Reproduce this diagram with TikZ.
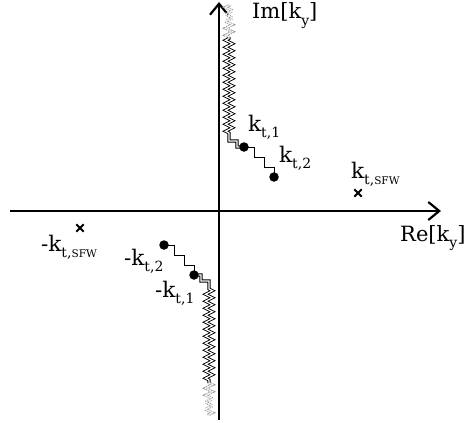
\documentclass[tikz,border=0pt]{standalone}
\usepackage{fontspec}
\setmainfont{DejaVu Serif}
\usetikzlibrary{arrows.meta,decorations.pathmorphing,shapes.misc,calc}
\newcommand\mysub[1]{\raisebox{-0.3em}{\fontsize{14}{14}\selectfont #1}}
\newcommand\mysmall[1]{{\fontsize{10.5}{10.5}\selectfont #1}}
\begin{document}
\begin{tikzpicture}[x=1pt,y=-1pt,
  axis/.style={line width=2.2pt,-{Straight Barb[length=11pt,width=18pt]}},
  axlabel/.style={anchor=base west,inner sep=0pt,font=\fontsize{21}{21}\selectfont},
  ptlabel/.style={anchor=base west,inner sep=0pt,font=\fontsize{21.5}{21.5}\selectfont},
  dot/.style={circle,fill=black,inner sep=0pt,minimum size=9.5pt},
  pole/.style={cross out,draw=black,line width=1.8pt,inner sep=0pt,minimum size=5.5pt},
  cutline/.style={draw=black,line width=0.9pt,double=white,double distance=1.3pt,line join=miter},
  zz/.style={decorate,decoration={zigzag,segment length=7pt,amplitude=3.5pt}},
  fade/.style={draw=black!40,densely dotted,line width=0.9pt,double=white,double distance=1.3pt},
  stairs/.style={draw=black,line width=0.9pt}]
\useasboundingbox (0,0) rectangle (467,423);
% axes
\coordinate (xl) at (10,211);
\coordinate (xr) at (441,211);
\coordinate (yb) at (219,420);
\coordinate (yt) at (219,2);
\draw[axis] (xl) -- (xr);
\draw[axis] (yb) -- (yt);
% points
\coordinate (k1) at (244,147);
\coordinate (k2) at (274,177);
\coordinate (m1) at (194,275);
\coordinate (m2) at (164,245);
% upper cut
\coordinate (h1) at (237,141);
\coordinate (c1) at (229,133);
\coordinate (u1) at (229,37);
\coordinate (u2) at (229,5);
\draw[cutline] (k1) -| (h1) -| (c1) decorate[zz]{-- (u1)};
\draw[fade,zz] (u1) -- (u2);
% lower cut
\coordinate (h2) at (201,281);
\coordinate (c2) at (209,289);
\coordinate (l1) at (209,383);
\coordinate (l2) at (209,415);
\draw[cutline] (m1) -| (h2) -| (c2) decorate[zz]{-- (l1)};
\draw[fade,zz] (l1) -- (l2);
% stairs between points
\draw[stairs] (k1) -| ($(k1)!1/3!(k2)$) -| ($(k1)!2/3!(k2)$) -| (k2);
\draw[stairs] (m2) -| ($(m2)!1/3!(m1)$) -| ($(m2)!2/3!(m1)$) -| (m1);
% dots
\node[dot] (n1) at (k1) {};
\node[dot] (n2) at (k2) {};
\node[dot] (n3) at (m1) {};
\node[dot] (n4) at (m2) {};
% poles
\node[pole] (s1) at (358,193) {};
\node[pole] (s2) at (80,228) {};
% labels
\node[axlabel] (im) at (252,19) {Im[k\mysub{y}]};
\node[axlabel] (re) at (400,241) {Re[k\mysub{y}]};
\node[ptlabel] (lk1) at (248,131) {k\mysub{t,1}};
\node[ptlabel] (lk2) at (279,162) {k\mysub{t,2}};
\node[ptlabel] (lks) at (351,178) {k\mysub{t,\mysmall{SFW}}};
\node[ptlabel] (lms) at (41,251) {-k\mysub{t,\mysmall{SFW}}};
\node[ptlabel] (lm2) at (124,265) {-k\mysub{t,2}};
\node[ptlabel] (lm1) at (155,297) {-k\mysub{t,1}};
\end{tikzpicture}
\end{document}
